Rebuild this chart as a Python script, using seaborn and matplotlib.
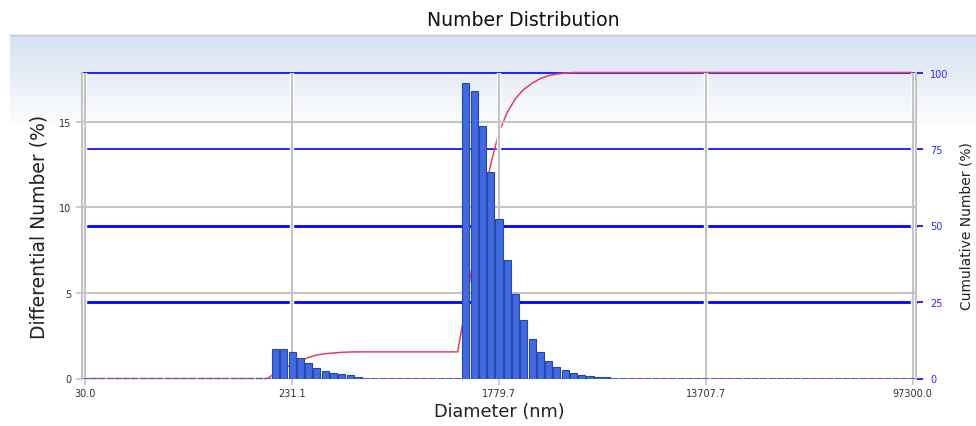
import numpy as np
import pandas as pd
import matplotlib
matplotlib.use("Agg")
import matplotlib.pyplot as plt
import seaborn as sns
from matplotlib import patheffects as pe
from matplotlib.colors import LinearSegmentedColormap
from matplotlib.lines import Line2D

# ---------------- data ----------------
bin_index = list(range(101))
diff_number = ([0.0] * 23
               + [1.72, 1.72, 1.53, 1.20, 0.90, 0.63, 0.46, 0.34, 0.27, 0.19, 0.10]
               + [0.0] * 12
               + [17.24, 16.77, 14.75, 12.04, 9.30, 6.89, 4.92, 3.42, 2.28, 1.53,
                  1.01, 0.69, 0.48, 0.35, 0.23, 0.15, 0.10, 0.07]
               + [0.0] * 37)
cumulative = ([0.0] * 23
              + [1.8, 3.3, 4.6, 5.8, 6.9, 7.7, 8.1, 8.35, 8.55, 8.65, 8.7]
              + [8.7] * 12
              + [24.0, 41.0, 57.0, 70.0, 80.5, 87.0, 91.5, 94.5, 96.5, 98.0,
                 99.0, 99.5, 99.8, 100.0]
              + [100.0] * 41)
x_tick_pos = [0, 25, 50, 75, 100]
x_tick_labels = ["30.0", "231.1", "1779.7", "13707.7", "97300.0"]
left_ticks = [0, 5, 10, 15]
right_ticks = [0, 25, 50, 75, 100]

df = pd.DataFrame({"bin": bin_index, "diff": diff_number, "cum": cumulative})

# ---------------- style ----------------
sns.set_style("white")
plt.rcParams["font.family"] = ["DejaVu Sans"]

W, H = 976, 427
fig = plt.figure(figsize=(W / 100, H / 100), dpi=100)
fig.patch.set_facecolor("white")

# background gradient band
bg = fig.add_axes([10 / W, 1 - 123 / H, (W - 10) / W, (123 - 36) / H], zorder=-10)
bg.set_axis_off()
cmap = LinearSegmentedColormap.from_list("g", ["#d6e0f1", "#fbfcfe"])
bg.imshow(np.linspace(0, 1, 256)[:, None], aspect="auto", cmap=cmap,
          extent=[0, 1, 0, 1])
fig.add_artist(Line2D([10 / W, 1], [1 - 35.5 / H] * 2, color="#c8c8c8", lw=1))

ax = fig.add_axes([82 / W, 1 - 379.5 / H, 834 / W, 306 / H])
ax2 = ax.twinx()
ax.set_zorder(ax2.get_zorder() + 1)
ax.patch.set_visible(False)
ax2.patch.set_visible(False)

sns.barplot(data=df, x="bin", y="diff", ax=ax, color="#4169e1", saturation=1,
            width=0.85, edgecolor="#2647a6", linewidth=0.8)
# empty bins show as short dashes along the baseline
for p in ax.patches:
    if p.get_height() == 0:
        p.set_linewidth(1.3)
        p.set_edgecolor("#3a5cc8")

sns.lineplot(data=df, x="bin", y="cum", ax=ax2, color="#e2415d", lw=1.1)
for ln in ax2.lines:
    ln.set_clip_on(False)

ax.set_xlim(-0.4, 100.4)
ax.set_ylim(0, 17.86)
ax2.set_ylim(0, 100)

ax.set_xticks(x_tick_pos, x_tick_labels)
ax.set_yticks(left_ticks, [str(t) for t in left_ticks])
ax2.set_yticks(right_ticks, [str(t) for t in right_ticks])

grid_gray = "#c4c4c4"
ax.set_axisbelow(True)
ax.grid(True, color=grid_gray, lw=1.5)
for gl in ax.get_xgridlines():
    gl.set_path_effects([pe.Stroke(linewidth=3.2, foreground="white"), pe.Normal()])

ax2.grid(True, axis="y", color="#0000ff")
widths = {0: 0, 25: 2.0, 50: 2.0, 75: 1.2, 100: 1.2}
for t, gl in zip(right_ticks, ax2.get_ygridlines()):
    gl.set_linewidth(widths[t])
    gl.set_clip_on(False)
    if t == 0:
        gl.set_visible(False)

for s in ["top", "bottom"]:
    ax.spines[s].set_visible(False)
for s in ["left", "right"]:
    ax.spines[s].set_color(grid_gray)
    ax.spines[s].set_linewidth(1.5)
for s in ax2.spines.values():
    s.set_visible(False)

ax.tick_params(axis="y", left=True, length=4.5, width=1.2, color=grid_gray,
               labelsize=7, labelcolor="#303030", pad=3)
ax.tick_params(axis="x", bottom=True, length=4, width=1.2, color=grid_gray,
               labelsize=7, labelcolor="#303030", pad=3)
ax2.tick_params(axis="y", right=True, length=5, width=1.2, color="#0000ff",
                labelsize=7, labelcolor="#2a2aff", pad=5)

ax.set_xlabel("Diameter (nm)", fontsize=12.7, color="#202020", labelpad=3)
ax.set_ylabel("Differential Number (%)", fontsize=13.5, color="#202020", labelpad=8)
ax2.set_ylabel("Cumulative Number (%)", fontsize=10, color="#202020", labelpad=8)

fig.text(523 / W, 1 - 21 / H, "Number Distribution", ha="center", va="center",
         fontsize=13.6, color="#111111")

fig.savefig("out.png", dpi=100)
